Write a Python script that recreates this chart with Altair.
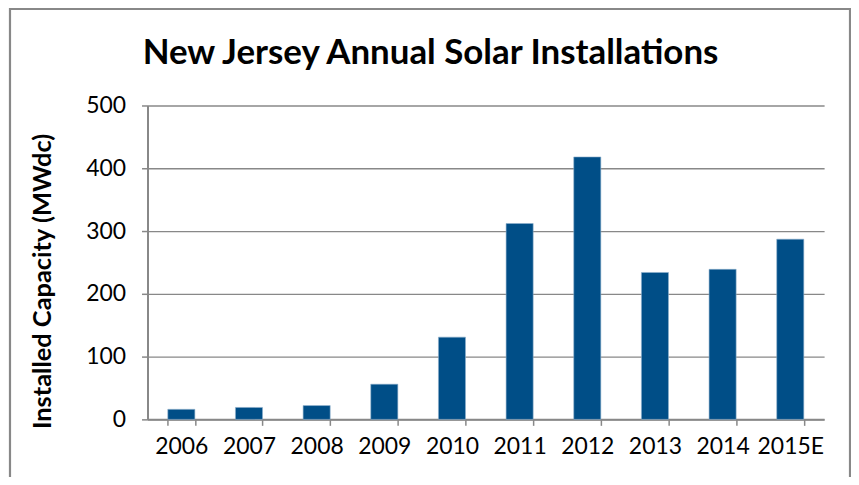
import altair as alt
import pandas as pd

years = ["2006", "2007", "2008", "2009", "2010", "2011", "2012", "2013", "2014", "2015E"]
capacity = [16, 19, 22, 56, 131, 312, 418, 234, 239, 287]
title_text = ["New Jersey Annual Solar Installations"]

df = pd.DataFrame({"Year": years, "Capacity": capacity})
tdf = pd.DataFrame({"t": title_text})

FONT = "Lato"
GRAY = "#888888"

bars = alt.Chart(df).mark_bar(color="#004E87", stroke="#8fb0cc", strokeWidth=0.6).encode(
    x=alt.X("Year:N", sort=years, title=None,
            scale=alt.Scale(paddingInner=0.6, paddingOuter=0.3),
            axis=alt.Axis(labelAngle=0, tickBand="extent", tickSize=6, tickColor=GRAY,
                          tickWidth=1.5, domainColor=GRAY, domainWidth=2,
                          labelFont=FONT, labelFontSize=23, labelColor="black",
                          labelPadding=10)),
    y=alt.Y("Capacity:Q", title="Installed Capacity (MWdc)",
            scale=alt.Scale(domain=[0, 500], nice=False),
            axis=alt.Axis(values=[0, 100, 200, 300, 400, 500], tickSize=6, tickColor=GRAY,
                          tickWidth=1.5, domainColor=GRAY, domainWidth=2,
                          gridColor=GRAY, gridWidth=1.3,
                          labelFont=FONT, labelFontSize=23, labelColor="black",
                          labelPadding=16,
                          titleFont=FONT, titleFontSize=25.5, titleFontWeight="bold",
                          titleColor="black", titleX=-105, titleY=176,
                          titleBaseline="middle", titleAlign="center", titleAngle=-90)),
)

frame = alt.Chart(tdf).mark_rect(fill=None, stroke=GRAY, strokeWidth=2.2).encode(
    x=alt.value(-138), x2=alt.value(705), y=alt.value(-97), y2=alt.value(420)
)

title = alt.Chart(tdf).mark_text(font=FONT, fontSize=35, fontWeight="bold", color="black",
                                 align="center", baseline="alphabetic").encode(
    text="t:N", x=alt.value(284), y=alt.value(-42)
)

chart = alt.layer(frame, title, bars).properties(
    width=679, height=315,
    autosize=alt.AutoSizeParams(type="none"),
    padding={"left": 140, "top": 97, "right": 27, "bottom": 57},
).configure_view(stroke=None).configure_axis(grid=True).configure_axisX(grid=False)

chart.save("out.html", embed_options={"renderer": "svg", "actions": False})
